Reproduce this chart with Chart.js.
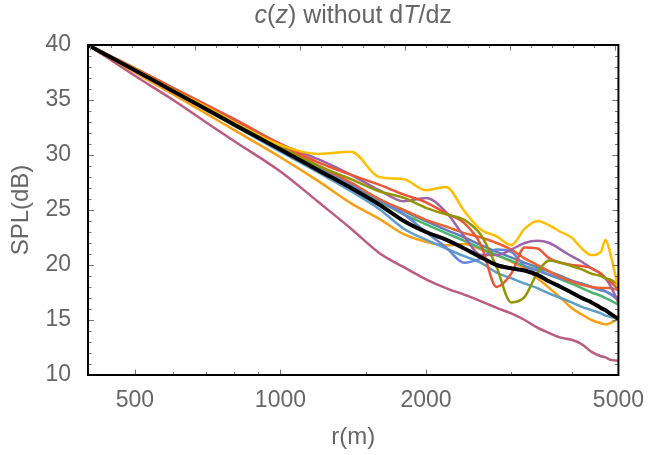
<!DOCTYPE html>
<html>
<head>
<meta charset="utf-8">
<script src="https://cdn.jsdelivr.net/npm/chart.js@4.4.1/dist/chart.umd.min.js"></script>
<style>
  html, body { margin: 0; padding: 0; background: #fff; }
  #wrap { width: 648px; height: 455px; position: relative; }
</style>
</head>
<body>
<div id="wrap"><canvas id="splChart" width="648" height="455"></canvas></div>
<script>
// range r (m), shared by every curve
const rValues = [400, 500, 600, 700, 800, 1000, 1200, 1400, 1600, 1800, 2000, 2200, 2400, 2600, 2800, 3000, 3200, 3400, 3600, 3800, 4000, 4200, 4400, 4600, 4700, 4800, 5000];

// SPL (dB)
const splPink      = [40, 37.2, 35.0, 33.0, 31.3, 28.5, 25.7, 23.3, 21.1, 19.8, 18.7, 17.9, 17.3, 16.7, 16.1, 15.6, 15.0, 14.3, 13.8, 13.4, 13.2, 12.8, 12.1, 11.7, 11.6, 11.4, 11.3];
const splOrange    = [40, 37.5, 35.5, 33.8, 32.3, 29.8, 27.6, 25.6, 24.2, 22.8, 22.1, 21.8, 21.9, 21.4, 20.9, 20.3, 19.7, 18.8, 17.9, 17.0, 16.1, 15.5, 15.0, 14.7, 14.6, 14.7, 15.1];
const splLightBlue = [40, 37.7, 35.8, 34.1, 32.7, 30.3, 28.4, 26.7, 25.1, 23.3, 22.3, 21.5, 20.8, 20.2, 19.3, 18.8, 18.3, 17.9, 17.4, 17.0, 16.6, 16.2, 15.9, 15.6, 15.4, 15.3, 15.2];
const splGreen     = [40, 37.7, 35.8, 34.2, 32.8, 30.5, 28.7, 27.1, 25.8, 24.6, 23.7, 22.9, 22.2, 21.5, 20.9, 20.4, 19.9, 19.6, 19.1, 18.7, 18.3, 17.9, 17.5, 17.2, 17.0, 16.8, 16.4];
const splSteel     = [40, 37.7, 35.8, 34.3, 32.9, 30.6, 28.8, 27.3, 26.0, 24.9, 24.0, 23.2, 22.5, 21.8, 21.2, 20.7, 20.2, 19.8, 19.4, 19.0, 18.6, 18.3, 18.0, 17.7, 17.6, 17.4, 17.0];
const splBlue      = [40, 37.8, 35.9, 34.4, 33.0, 30.8, 29.0, 27.4, 25.9, 24.6, 23.0, 21.6, 20.2, 20.6, 21.4, 21.2, 19.9, 19.5, 19.1, 18.8, 18.5, 18.3, 18.0, 17.8, 17.6, 17.4, 16.8];
const splRedB      = [40, 37.8, 36.0, 34.4, 33.1, 30.8, 29.0, 27.5, 26.0, 25.0, 24.1, 23.5, 22.9, 22.5, 22.0, 21.4, 20.6, 20.0, 19.4, 18.9, 18.5, 18.2, 18.0, 17.9, 17.9, 17.9, 17.7];
const splPurple    = [40, 37.8, 36.0, 34.5, 33.2, 31.0, 29.6, 28.2, 26.8, 25.8, 26.1, 24.8, 22.6, 20.9, 20.9, 21.4, 22.0, 22.2, 22.0, 21.4, 20.8, 20.3, 19.7, 19.2, 18.8, 18.2, 16.6];
const splRedA      = [40, 37.9, 36.1, 34.6, 33.3, 31.0, 29.3, 28.2, 27.3, 26.4, 25.7, 24.7, 23.8, 21.8, 18.0, 19.2, 21.6, 21.5, 20.6, 20.2, 20.0, 19.9, 19.7, 19.2, 18.8, 18.5, 17.8];
const splOlive     = [40, 37.7, 35.9, 34.3, 33.0, 30.7, 29.0, 27.8, 26.7, 26.1, 25.2, 24.6, 24.1, 22.7, 19.8, 16.6, 17.1, 19.3, 20.4, 20.2, 19.9, 19.6, 19.2, 19.0, 18.8, 18.7, 18.2];
const splYellow    = [40, 37.8, 35.9, 34.4, 33.0, 30.9, 30.1, 30.3, 28.0, 27.8, 26.8, 27.1, 24.9, 23.2, 22.6, 21.8, 23.3, 24.0, 23.6, 23.0, 22.5, 21.5, 20.9, 21.2, 22.3, 21.2, 17.8];
const splMean      = [40, 37.7, 35.8, 34.2, 32.8, 30.5, 28.6, 27.0, 25.5, 24.0, 23.0, 22.3, 21.5, 20.7, 20.0, 19.7, 19.5, 19.1, 18.5, 18.0, 17.5, 17.0, 16.6, 16.1, 15.9, 15.6, 15.1];

const yTickLabels = [10, 15, 20, 25, 30, 35, 40];
const xTickLabels = [500, 1000, 2000, 5000];
const xMinorTicks = [400, 600, 700, 800, 900, 1500, 3000, 4000];

const toPoints = (arr) => rValues.map((r, i) => ({ x: r, y: arr[i] }));

// first entry is drawn on top
const curves = [
    { data: splMean, color: '#000000', width: 4 },
    { data: splYellow, color: '#FFBF00', width: 2.5 },
    { data: splOlive, color: '#929600', width: 2.5 },
    { data: splRedA, color: '#E95536', width: 2.5 },
    { data: splPurple, color: '#9D64A8', width: 2.5 },
    { data: splRedB, color: '#EB6235', width: 2.5 },
    { data: splBlue, color: '#6685D9', width: 2.5 },
    { data: splSteel, color: '#5E81B5', width: 2.5 },
    { data: splGreen, color: '#47B66D', width: 2.5 },
    { data: splLightBlue, color: '#5D9EC7', width: 2.5 },
    { data: splOrange, color: '#F89F13', width: 2.5 },
    { data: splPink, color: '#BC5B80', width: 2.5 }
];

const FONT = "'Liberation Sans', Arial, sans-serif";
const GREY = '#666666';

const titlePlugin = {
    id: 'mixedTitle',
    afterDraw: (chart) => {
        const { ctx, chartArea: { left, right } } = chart;
        const parts = [['c', true], ['(', false], ['z', true], [') without d', false], ['T', true], ['/dz', false]];
        ctx.save(); ctx.fillStyle = GREY; ctx.textBaseline = 'middle';
        let total = 0;
        parts.forEach(p => { ctx.font = (p[1] ? 'italic ' : '') + '25px ' + FONT; total += ctx.measureText(p[0]).width; });
        let xPos = (left + right) / 2 - total / 2;
        parts.forEach(p => {
            ctx.font = (p[1] ? 'italic ' : '') + '25px ' + FONT;
            ctx.fillText(p[0], xPos, 16); xPos += ctx.measureText(p[0]).width;
        });
        ctx.restore();
    }
};

const framePlugin = {
    id: 'frameTicks',
    afterDatasetsDraw: (chart) => {
        const { ctx, chartArea: { left, right, top, bottom }, scales: { x, y } } = chart;
        const seg = (x1, y1, x2, y2) => { ctx.beginPath(); ctx.moveTo(x1, y1); ctx.lineTo(x2, y2); ctx.stroke(); };
        ctx.save(); ctx.strokeStyle = '#777777'; ctx.lineWidth = 1;
        for (let v = 10; v <= 40; v++) {
            const py = Math.round(y.getPixelForValue(v)) + 0.5; const len = v % 5 === 0 ? 6 : 3.5;
            seg(left, py, left + len, py); seg(right, py, right - len, py);
        }
        xTickLabels.concat(xMinorTicks).forEach(v => {
            const px = Math.round(x.getPixelForValue(v)) + 0.5; const len = xTickLabels.includes(v) ? 5.5 : 3;
            seg(px, bottom, px, bottom - len);
        });
        // top edge carries ticks in ln(r)
        for (let k = 60; k <= 85; k++) {
            const px = Math.round(x.getPixelForValue(Math.exp(k / 10))) + 0.5; const len = k % 5 === 0 ? 5.5 : 3;
            seg(px, top, px, top + len);
        }
        ctx.strokeStyle = '#000000'; ctx.lineWidth = 2;
        ctx.strokeRect(left, top, right - left, bottom - top);
        ctx.restore();
    }
};

new Chart(document.getElementById('splChart'), {
    type: 'line',
    data: {
        datasets: curves.map(c => ({
            data: toPoints(c.data), borderColor: c.color, backgroundColor: c.color,
            borderWidth: c.width, pointRadius: 0, fill: false, cubicInterpolationMode: 'monotone'
        }))
    },
    options: {
        responsive: false, animation: false, devicePixelRatio: 1,
        layout: { padding: { top: 45, right: 28, left: 0, bottom: 0 } },
        plugins: { legend: { display: false }, tooltip: { enabled: false }, title: { display: false } },
        scales: {
            x: {
                type: 'logarithmic', min: 400, max: 5000,
                grid: { display: false }, border: { display: false },
                afterBuildTicks: (axis) => { axis.ticks = xTickLabels.map(v => ({ value: v })); },
                afterFit: (axis) => { axis.height = 80; },
                ticks: { autoSkip: false, maxRotation: 0, padding: 4, color: GREY, font: { family: FONT, size: 23 }, callback: (v) => String(v) },
                title: { display: true, text: 'r(m)', color: GREY, font: { family: FONT, size: 24 }, padding: { top: 0, bottom: 3 } }
            },
            y: {
                min: 10, max: 40,
                grid: { display: false }, border: { display: false },
                afterBuildTicks: (axis) => { axis.ticks = yTickLabels.map(v => ({ value: v })); },
                afterFit: (axis) => { axis.width = 88; },
                ticks: { padding: 9, color: GREY, font: { family: FONT, size: 23 } },
                title: { display: true, text: 'SPL(dB)', color: GREY, font: { family: FONT, size: 24 }, padding: { top: 7, bottom: 0 } }
            }
        }
    },
    plugins: [framePlugin, titlePlugin]
});
</script>
</body>
</html>
